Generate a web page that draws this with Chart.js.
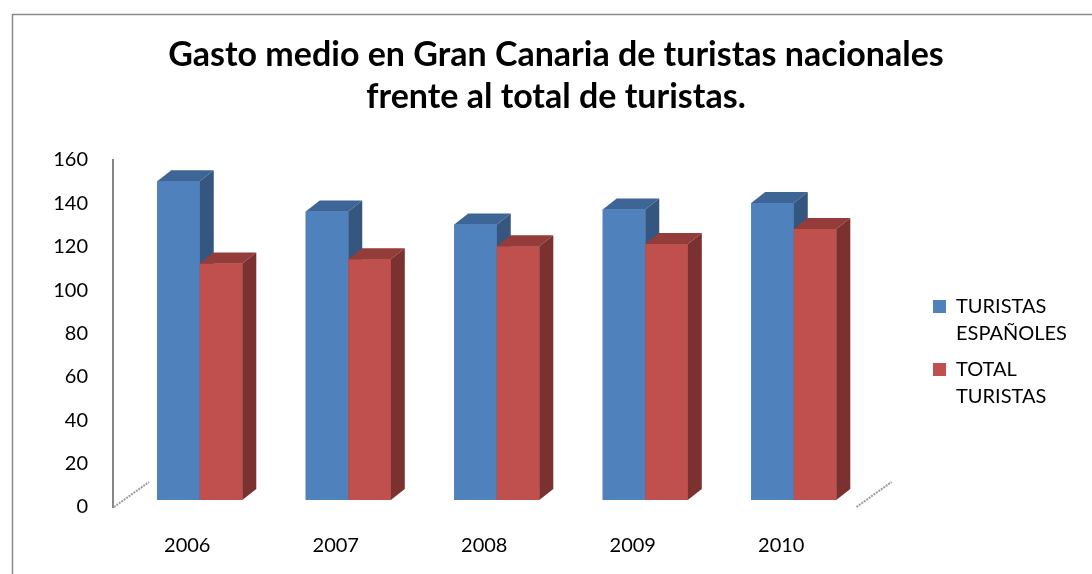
<!DOCTYPE html>
<html>
<head>
<meta charset="utf-8">
<script src="https://cdn.jsdelivr.net/npm/chart.js@4"></script>
<style>
  html, body { margin: 0; padding: 0; background: #ffffff; }
  #wrap { width: 1092px; height: 574px; }
</style>
</head>
<body>
<div id="wrap"><canvas id="c" width="1092" height="574"></canvas></div>
<script>
// ---- data ----
const years = ['2006', '2007', '2008', '2009', '2010'];
const turistasEspanoles = [147, 133, 127, 134, 137];
const totalTuristas = [109, 111, 117, 118, 125];
const seriesNames = ['TURISTAS ESPAÑOLES', 'TOTAL TURISTAS'];
const titleLines = ['Gasto medio en Gran Canaria de turistas nacionales', 'frente al total de turistas.'];
const yMin = 0, yMax = 160, yStep = 20;

// ---- styling ----
const FONT = 'Lato';
const frontColors = ['#4F81BD', '#C0504D'];
const topColors = ['#3D6595', '#943C39'];
const sideColors = ['#34567F', '#7B3130'];
const DEPTH_X = 14, DEPTH_Y = 11;   // column depth
const PROJ_X = 12.5, PROJ_Y = 7;    // columns sit behind the front plane
const Y_AXIS_WIDTH = 93;
const LEGEND_WIDTH = 236.5;
const LEGEND_LEFT_GAP = 68.5;
const LEGEND_TOP_SHIFT = 61;

const frame = {
  id: 'frame',
  beforeDraw(chart) {
    const ctx = chart.ctx;
    ctx.save();
    ctx.strokeStyle = '#8a8a8a';
    ctx.lineWidth = 1.5;
    ctx.beginPath();
    ctx.moveTo(12.5, 574);
    ctx.lineTo(12.5, 14.5);
    ctx.lineTo(1092, 14.5);
    ctx.stroke();
    ctx.restore();
  }
};

const bar3d = {
  id: 'bar3d',
  beforeDatasetsDraw(chart) {
    const ctx = chart.ctx, a = chart.chartArea;
    // floor edges
    ctx.save();
    ctx.strokeStyle = 'rgba(140,140,140,0.85)';
    ctx.lineWidth = 2;
    ctx.setLineDash([2, 1]);
    [a.left + 1, a.right + 1].forEach(x0 => {
      ctx.beginPath();
      ctx.moveTo(x0, a.bottom);
      ctx.lineTo(x0 + 35, a.bottom - 25);
      ctx.stroke();
    });
    ctx.restore();
    ctx.save();
    ctx.translate(PROJ_X, -PROJ_Y);
  },
  afterDatasetsDraw(chart) {
    const ctx = chart.ctx;
    // redraw columns in series order so each column's front hides its left neighbour's side
    chart.data.datasets.forEach((ds, i) => {
      const meta = chart.getDatasetMeta(i);
      if (meta.hidden) return;
      meta.data.forEach(bar => {
        bar.draw(ctx);
        const p = bar.getProps(['x', 'y', 'base', 'width'], true);
        const l = p.x - p.width / 2, r = p.x + p.width / 2;
        ctx.fillStyle = topColors[i];
        ctx.beginPath();
        ctx.moveTo(l, p.y);
        ctx.lineTo(l + DEPTH_X, p.y - DEPTH_Y);
        ctx.lineTo(r + DEPTH_X, p.y - DEPTH_Y);
        ctx.lineTo(r, p.y);
        ctx.closePath();
        ctx.fill();
        ctx.fillStyle = sideColors[i];
        ctx.beginPath();
        ctx.moveTo(r, p.y);
        ctx.lineTo(r + DEPTH_X, p.y - DEPTH_Y);
        ctx.lineTo(r + DEPTH_X, p.base - DEPTH_Y);
        ctx.lineTo(r, p.base);
        ctx.closePath();
        ctx.fill();
      });
    });
    ctx.restore();
  }
};

const legendPlacement = {
  id: 'legendPlacement',
  beforeLayout(chart) {
    const lg = chart.legend;
    if (lg && !lg.__fixedWidth) {
      const fit = lg.fit;
      lg.fit = function () { fit.call(this); if (this.options.display) this.width = LEGEND_WIDTH; };
      lg.__fixedWidth = true;
    }
  },
  afterLayout(chart) {
    const lg = chart.legend;
    if (!lg) return;
    lg.left = chart.chartArea.right + LEGEND_LEFT_GAP;
    lg.right = lg.left + LEGEND_WIDTH;
    lg.top += LEGEND_TOP_SHIFT;
    lg.bottom += LEGEND_TOP_SHIFT;
  }
};

new Chart(document.getElementById('c'), {
  type: 'bar',
  data: {
    labels: years,
    datasets: [
      { label: seriesNames[0], data: turistasEspanoles, backgroundColor: frontColors[0], borderWidth: 0 },
      { label: seriesNames[1], data: totalTuristas, backgroundColor: frontColors[1], borderWidth: 0 }
    ]
  },
  options: {
    responsive: false,
    animation: false,
    events: [],
    layout: { padding: { left: 20, right: 0, top: 14, bottom: 0 } },
    datasets: { bar: { categoryPercentage: 0.573, barPercentage: 1.0, clip: false } },
    scales: {
      x: {
        grid: { display: false, drawTicks: false },
        border: { display: false },
        ticks: { color: '#000', font: { family: FONT, size: 20 }, padding: 27 },
        afterFit(s) { s.height = 67; }
      },
      y: {
        min: yMin, max: yMax,
        grid: { display: false, drawTicks: false },
        border: { display: true, color: '#868686', width: 2 },
        ticks: { stepSize: yStep, color: '#000', font: { family: FONT, size: 20 }, padding: 25 },
        afterFit(s) { s.width = Y_AXIS_WIDTH; }
      }
    },
    plugins: {
      tooltip: { enabled: false },
      title: {
        display: true,
        text: titleLines,
        color: '#000',
        font: { family: FONT, size: 34, weight: 'bold', lineHeight: '42px' },
        padding: { top: 20, bottom: 42 }
      },
      legend: {
        position: 'right',
        align: 'center',
        labels: {
          color: '#000',
          font: { family: FONT, size: 20, lineHeight: '27px' },
          boxWidth: 13, boxHeight: 13, padding: 9,
          generateLabels(chart) {
            const items = Chart.defaults.plugins.legend.labels.generateLabels(chart);
            items.forEach(it => { it.text = it.text.split(' '); it.lineWidth = 0; });
            return items;
          }
        }
      }
    }
  },
  plugins: [frame, bar3d, legendPlacement]
});
</script>
</body>
</html>
